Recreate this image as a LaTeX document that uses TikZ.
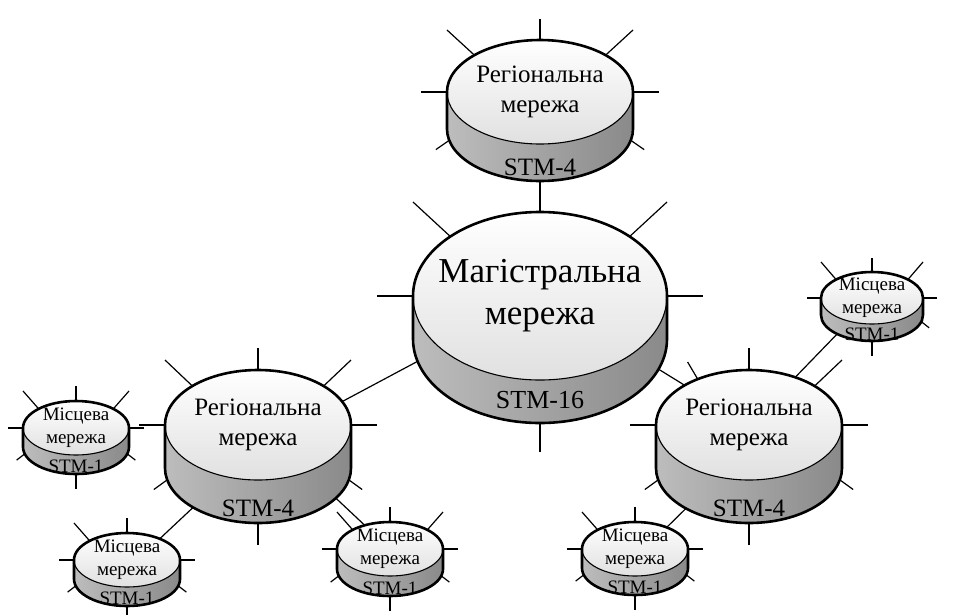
\documentclass[tikz,border=0pt]{standalone}
\usepackage{fontspec}
\setmainfont{Liberation Serif}
\usetikzlibrary{backgrounds}

\tikzset{
  spoke/.style={line width=1.2pt},
  link/.style={line width=1.2pt},
  rim/.style={line width=2.6pt, line join=round},
  lip/.style={line width=1.1pt},
}

% network disk: [spokes], name, top centre, x radius, y radius, depth, text size, text, label
\newcommand{\netdisk}[9][n,ne,e,se,s,sw,w,nw]{%
  \begin{scope}[shift={(#3)}]
    \pgfmathsetmacro{\spokelen}{8+0.25*#5}
    \pgfmathsetmacro{\lskip}{1.2*#7}
    \pgfmathsetmacro{\lblsize}{min(#7,26)}
    \coordinate (#2) at (0,{#6/2});
    \coordinate (#2-top) at (0,0);
    % spoke ends
    \coordinate (#2-n-a) at (0,-#5);           \coordinate (#2-n-b) at (0,{-#5-\spokelen});
    \coordinate (#2-s-a) at (0,{#6+#5});       \coordinate (#2-s-b) at (0,{#6+#5+\spokelen});
    \coordinate (#2-w-a) at (-#4,0);           \coordinate (#2-w-b) at ({-1.28*#4},0);
    \coordinate (#2-e-a) at (#4,0);            \coordinate (#2-e-b) at ({1.28*#4},0);
    \coordinate (#2-nw-a) at ({-0.7*#4},{-0.7*#5}); \coordinate (#2-nw-b) at (-#4,{-#5-10});
    \coordinate (#2-ne-a) at ({0.7*#4},{-0.7*#5});  \coordinate (#2-ne-b) at (#4,{-#5-10});
    \coordinate (#2-nnw-a) at ({-0.55*#4},{-0.83*#5}); \coordinate (#2-nnw-b) at ({-0.66*#4},{-#5-8});
    \coordinate (#2-sw-a) at ({-0.8*#4},#6);   \coordinate (#2-sw-b) at ({-1.12*#4},{#6+0.3*#5+5});
    \coordinate (#2-se-a) at ({0.8*#4},#6);    \coordinate (#2-se-b) at ({1.12*#4},{#6+0.3*#5+5});
    \foreach \d in {#1}
      \draw[spoke] (#2-\d-a) -- (#2-\d-b);
    % side
    \shade[left color=black!26, middle color=black!12, right color=black!46]
      (-#4,0) -- (-#4,#6) arc[start angle=180, end angle=360, x radius=#4pt, y radius=#5pt]
      -- (#4,0) arc[start angle=360, end angle=180, x radius=#4pt, y radius=#5pt] -- cycle;
    % top face
    \shade[top color=white, bottom color=black!12] (0,0) ellipse[x radius=#4pt, y radius=#5pt];
    \draw[lip] (0,0) ellipse[x radius=#4pt, y radius=#5pt];
    \draw[rim] (-#4,#6) -- (-#4,0) arc[start angle=180, end angle=0, x radius=#4pt, y radius=#5pt]
      -- (#4,#6) arc[start angle=0, end angle=-180, x radius=#4pt, y radius=#5pt] -- cycle;
    \node[font=\fontsize{#7}{\lskip}\selectfont, align=center] (#2-txt) at (0,0) {#8};
    \node[font=\fontsize{\lblsize}{\lblsize}\selectfont] (#2-lbl) at (0,{#6+0.73*#5}) {#9};
  \end{scope}
}

\begin{document}
\begin{tikzpicture}[x=1pt, y=-1pt]
  \useasboundingbox (0,0) rectangle (953,614);

  \netdisk{regN}{540,92}{93}{52}{37}{25}{Регіональна\\мережа}{STM-4}
  \netdisk[n,ne,e,s,w,nw]{core}{540,296}{127}{84}{43}{35}{Магістральна\\мережа}{STM-16}
  \netdisk{regW}{258,425}{93}{55}{43}{25}{Регіональна\\мережа}{STM-4}
  \netdisk[n,ne,e,se,s,sw,w,nnw]{regE}{749,425}{93}{55}{43}{25}{Регіональна\\мережа}{STM-4}

  \netdisk{locW}{76,428}{53}{27}{19}{19}{Місцева\\мережа}{STM-1}
  \netdisk[n,e,se,s,sw,w,nw]{locSW}{127,560}{53}{27}{19}{19}{Місцева\\мережа}{STM-1}
  \netdisk{locS}{390,549}{53}{27}{20}{19}{Місцева\\мережа}{STM-1}
  \netdisk[n,e,se,s,sw,w,nw]{locSE}{635,549}{53}{27}{19}{19}{Місцева\\мережа}{STM-1}
  \netdisk[n,ne,e,se,s,w,nw]{locE}{872,298}{51}{26}{17}{19}{Місцева\\мережа}{STM-1}

  % links between networks
  \begin{pgfonlayer}{background}
    \draw[link] (core-top) -- (regW);
    \draw[link] (core-top) -- (regE-top);
    \draw[link] (regW) -- (locSW);
    \draw[link] (regW-top) -- (locS-top);
    \draw[link] (regE-top) -- (locE-top);
    \draw[link] (regE) -- (locSE);
  \end{pgfonlayer}
\end{tikzpicture}
\end{document}
